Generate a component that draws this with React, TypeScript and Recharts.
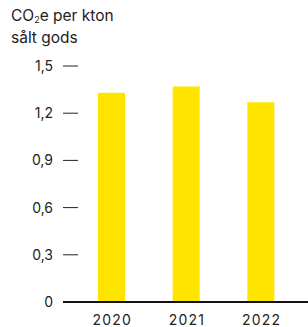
import { Bar, BarChart, XAxis, YAxis } from "recharts";

const years = ["2020", "2021", "2022"];
const values = [1.33, 1.37, 1.27];
const yTicks = [0, 0.3, 0.6, 0.9, 1.2, 1.5];

const data = years.map((year, i) => ({ year, value: values[i] }));

const font = "Inter, 'Noto Sans', sans-serif";
const textColor = "#222";

const YTick = (props: any) => {
  const { x, y, payload } = props;
  return (
    <g>
      <text
        x={x - 10}
        y={y}
        dy={5}
        textAnchor="end"
        fontSize={14}
        fill={textColor}
        fontFamily={font}
      >
        {String(payload.value).replace(".", ",")}
      </text>
      {payload.value !== 0 && (
        <line x1={x} x2={x + 15} y1={y} y2={y} stroke={textColor} strokeWidth={1} />
      )}
    </g>
  );
};

const XTick = (props: any) => {
  const { x, y, payload } = props;
  return (
    <text
      x={x + 1}
      y={y + 21}
      textAnchor="middle"
      fontSize={14}
      letterSpacing={1.2}
      fill={textColor}
      fontFamily={font}
    >
      {payload.value}
    </text>
  );
};

export default function App() {
  return (
    <div style={{ position: "absolute", left: 0, top: 0, width: 308, height: 327 }}>
      <div
        style={{
          position: "absolute",
          left: 11,
          top: 7,
          fontFamily: font,
          fontSize: 15.5,
          lineHeight: "18px",
          color: textColor,
        }}
      >
        CO<sub style={{ fontSize: 9, verticalAlign: "-2px" }}>2</sub>e per kton
        <br />
        sålt gods
      </div>
      <BarChart
        width={308}
        height={327}
        data={data}
        margin={{ top: 66, right: 0, bottom: 0, left: 0 }}
      >
        <XAxis
          dataKey="year"
          height={25}
          tickLine={false}
          axisLine={{ stroke: "#111", strokeWidth: 2 }}
          padding={{ left: 11, right: 10 }}
          tick={<XTick />}
          tickSize={0}
          interval={0}
        />
        <YAxis
          width={63}
          domain={[0, 1.5]}
          ticks={yTicks}
          axisLine={false}
          tickLine={false}
          tickSize={0}
          tickMargin={0}
          tick={<YTick />}
        />
        <Bar dataKey="value" fill="#FFE400" barSize={27} isAnimationActive={false} />
      </BarChart>
    </div>
  );
}
